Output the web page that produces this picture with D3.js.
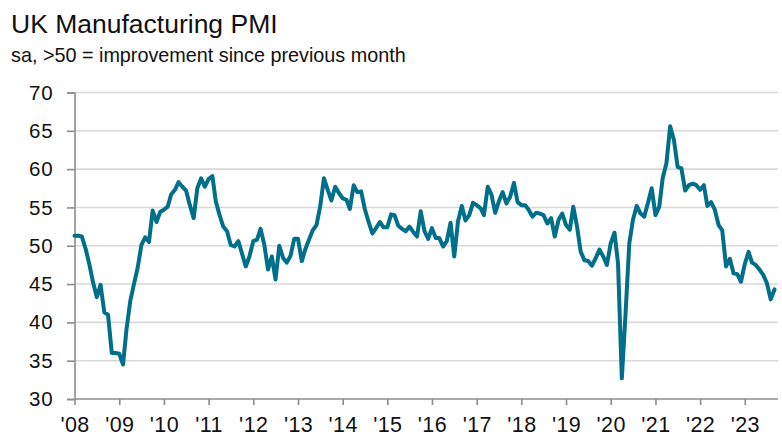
<!DOCTYPE html>
<html>
<head>
<meta charset="utf-8">
<script src="https://cdn.jsdelivr.net/npm/d3@7"></script>
<style>
  body { margin: 0; background: #fff; }
  svg { display: block; font-family: "Liberation Sans", Arial, sans-serif; }
</style>
</head>
<body>
<script>
// monthly PMI readings, Jan 2008 .. Sep 2023
var y2008 = [51.3, 51.3, 51.2, 49.6, 47.6, 45.2, 43.3, 44.9, 41.3, 41.0, 36.0, 36.0];
var y2009 = [35.9, 34.5, 39.1, 42.8, 45.0, 47.2, 50.1, 51.1, 50.5, 54.6, 53.1, 54.4];
var y2010 = [54.7, 55.1, 56.7, 57.3, 58.3, 57.7, 57.2, 55.3, 53.6, 57.5, 58.8, 57.7];
var y2011 = [58.7, 59.1, 55.8, 54.0, 52.5, 51.9, 50.1, 49.9, 50.6, 49.0, 47.3, 48.6];
var y2012 = [50.6, 50.8, 52.2, 50.1, 46.9, 48.6, 45.6, 50.0, 48.4, 47.8, 48.7, 50.9];
var y2013 = [50.9, 48.0, 49.5, 50.8, 52.0, 52.7, 55.1, 58.8, 57.3, 55.9, 57.7, 56.9];
var y2014 = [56.2, 56.0, 54.8, 57.9, 57.0, 57.1, 54.8, 53.1, 51.6, 52.3, 53.1, 52.4];
var y2015 = [52.4, 54.1, 54.0, 52.6, 52.2, 51.9, 52.5, 51.8, 51.2, 54.5, 51.9, 50.9];
var y2016 = [52.3, 51.0, 51.0, 49.9, 50.6, 53.0, 48.6, 53.2, 55.2, 53.3, 54.0, 55.6];
var y2017 = [55.3, 54.9, 54.0, 57.7, 56.7, 54.3, 55.8, 57.0, 55.5, 56.4, 58.2, 55.7];
var y2018 = [55.3, 55.3, 54.7, 53.8, 54.3, 54.2, 54.0, 52.9, 53.6, 51.2, 53.4, 54.2];
var y2019 = [52.7, 52.1, 55.1, 52.5, 49.2, 48.1, 48.0, 47.4, 48.4, 49.5, 48.6, 47.5];
var y2020 = [50.3, 51.7, 47.7, 32.7, 41.0, 50.3, 53.4, 55.2, 54.2, 53.8, 55.6, 57.5];
var y2021 = [54.0, 55.1, 58.8, 60.8, 65.6, 63.8, 60.3, 60.1, 57.2, 57.9, 58.1, 57.9];
var y2022 = [57.3, 57.9, 55.2, 55.7, 54.7, 52.7, 52.0, 47.3, 48.3, 46.4, 46.3, 45.3];
var y2023 = [47.6, 49.2, 47.8, 47.5, 46.9, 46.2, 45.1, 43.0, 44.3];

var yTicks = [30, 35, 40, 45, 50, 55, 60, 65, 70];
var yearTicks = [2008, 2009, 2010, 2011, 2012, 2013, 2014, 2015, 2016, 2017, 2018, 2019, 2020, 2021, 2022, 2023];

var values = [].concat(y2008, y2009, y2010, y2011, y2012, y2013, y2014, y2015,
                       y2016, y2017, y2018, y2019, y2020, y2021, y2022, y2023);
var data = values.map(function(v, i) {
  return { date: new Date(2008, i, 1), value: v };
});

var width = 782, height = 444;
var margin = {top: 92.5, right: 8, bottom: 45, left: 74.5};

var svg = d3.select("body")
  .append("svg")
    .attr("width", width)
    .attr("height", height);

// title + subtitle
svg.append("text")
  .attr("x", 11)
  .attr("y", 33)
  .attr("font-size", 26.5)
  .attr("fill", "#111")
  .text("UK Manufacturing PMI");

svg.append("text")
  .attr("x", 11)
  .attr("y", 62)
  .attr("font-size", 19.8)
  .attr("fill", "#111")
  .text("sa, >50 = improvement since previous month");

var x = d3.scaleTime()
  .domain([new Date(2008, 0, 1), new Date(2023, 8, 1)])
  .range([margin.left, 774.5]);

var y = d3.scaleLinear()
  .domain([30, 70])
  .range([399, margin.top]);

// gridlines
svg.append("g")
  .selectAll("line")
  .data(yTicks.slice(1))
  .enter()
  .append("line")
    .attr("x1", margin.left)
    .attr("x2", 778)
    .attr("y1", function(d) { return y(d); })
    .attr("y2", function(d) { return y(d); })
    .attr("stroke", "#d9d9d9")
    .attr("stroke-width", 1.6);

// y axis
var yAxis = svg.append("g")
  .attr("transform", "translate(" + margin.left + ",0)")
  .call(d3.axisLeft(y).tickValues(yTicks).tickSize(7.5).tickPadding(13.5));
yAxis.select(".domain").attr("stroke", "#8c8c8c").attr("stroke-width", 1.6);
yAxis.selectAll(".tick line").attr("stroke", "#8c8c8c").attr("stroke-width", 1.6);
yAxis.selectAll("text")
  .attr("font-size", 20.5)
  .attr("letter-spacing", 0.8)
  .attr("fill", "#111")
  .attr("font-family", "Liberation Sans, Arial, sans-serif");

// x axis
var xAxis = svg.append("g")
  .attr("transform", "translate(0," + y(30) + ")")
  .call(d3.axisBottom(x)
    .tickValues(yearTicks.map(function(yr) { return new Date(yr, 0, 1); }))
    .tickFormat(function(d) { return "'" + String(d.getFullYear()).slice(2); })
    .tickSize(6)
    .tickPadding(12)
    .tickSizeOuter(0));
xAxis.select(".domain").attr("stroke", "#8c8c8c").attr("stroke-width", 1.6)
  .attr("d", "M" + margin.left + ",0H778");
xAxis.selectAll(".tick line").attr("stroke", "#8c8c8c").attr("stroke-width", 1.6);
xAxis.selectAll("text")
  .attr("font-size", 21.5)
  .attr("letter-spacing", 0.4)
  .attr("fill", "#111")
  .attr("font-family", "Liberation Sans, Arial, sans-serif");

// the PMI line
var line = d3.line()
  .x(function(d) { return x(d.date); })
  .y(function(d) { return y(d.value); });

svg.append("path")
  .datum(data)
  .attr("fill", "none")
  .attr("stroke", "#006f8a")
  .attr("stroke-width", 4)
  .attr("stroke-linejoin", "round")
  .attr("stroke-linecap", "round")
  .attr("d", line);
</script>
</body>
</html>
